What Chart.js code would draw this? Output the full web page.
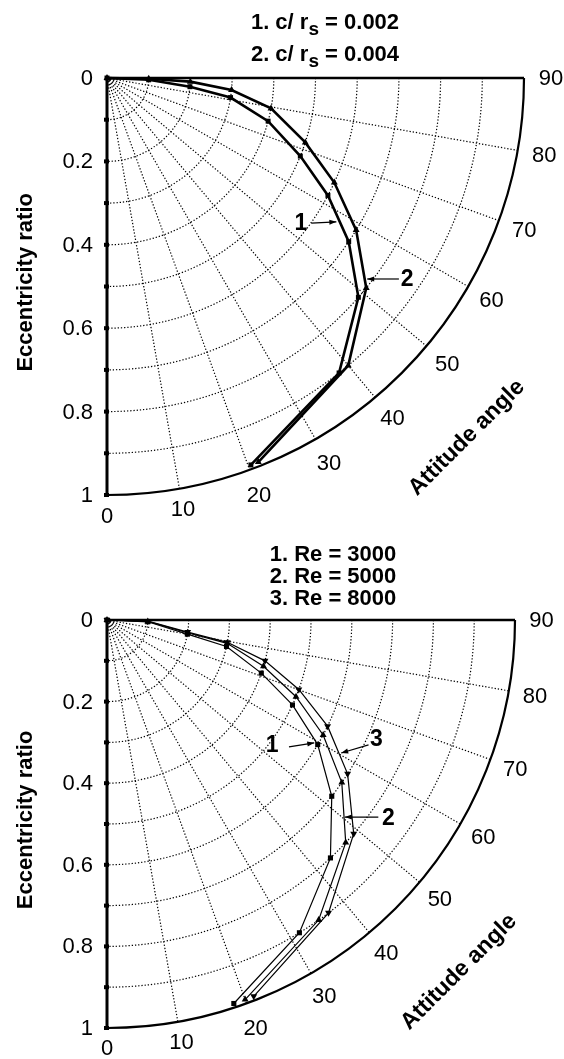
<!DOCTYPE html>
<html><head><meta charset="utf-8">
<script src="https://cdn.jsdelivr.net/npm/chart.js@4/dist/chart.umd.min.js"></script>
<style>
html,body{margin:0;padding:0;background:#fff;width:564px;height:1059px;overflow:hidden}
canvas{position:absolute;left:0}
#c1{top:0}
#c2{top:535px}
</style></head><body>
<canvas id="c1" width="564" height="535"></canvas>
<canvas id="c2" width="564" height="524"></canvas>
<script>
// eccentricity ratio of every plotted point (shared by all curves)
const eccentricity = [0, 0.1, 0.2, 0.3, 0.4, 0.5, 0.6, 0.7, 0.8, 0.9, 0.99];
// top chart: attitude angle (deg)
const angleClr002 = [90, 87.5, 84, 81, 75, 68, 62, 55.9, 48.9, 38.2, 20.4];
const angleClr004 = [90, 89, 87.5, 84.5, 79.5, 72, 65.3, 58.6, 51, 40, 21.5];
// bottom chart: attitude angle (deg)
const angleRe3000 = [90, 87.5, 80, 77.5, 71, 65.4, 59.4, 51.9, 43.2, 31.6, 18.3];
const angleRe5000 = [90, 88, 81, 79, 73.5, 67.9, 62, 55.3, 47, 35.2, 20];
const angleRe8000 = [90, 88.5, 81.5, 79.5, 75.5, 70.1, 64.3, 57.4, 49.1, 37.1, 21.3];
// axes
const eccTickValues = [0, 0.2, 0.4, 0.6, 0.8, 1];
const eccTickLabels = ['0', '0.2', '0.4', '0.6', '0.8', '1'];
const eccGrid = [0.1, 0.2, 0.3, 0.4, 0.5, 0.6, 0.7, 0.8, 0.9];
const eccMinorTicks = [0.1, 0.2, 0.3, 0.4, 0.5, 0.6, 0.7, 0.8, 0.9, 1];
const angleTicks = [0, 10, 20, 30, 40, 50, 60, 70, 80, 90];
const angleGrid = [10, 20, 30, 40, 50, 60, 70, 80];
const eccTitle = 'Eccentricity ratio';
const angleTitle = 'Attitude angle';
const topTitles = [
  [['1. c/ r', 'n'], ['s', 'sub'], [' = 0.002', 'n']],
  [['2. c/ r', 'n'], ['s', 'sub'], [' = 0.004', 'n']]
];
const bottomTitles = [
  [['1. Re = 3000', 'n']],
  [['2. Re = 5000', 'n']],
  [['3. Re = 8000', 'n']]
];

function polar(e, deg) {
  const a = deg * Math.PI / 180;
  return { x: e * Math.sin(a), y: e * Math.cos(a) };
}
function series(angles) { return eccentricity.map((e, i) => polar(e, angles[i])); }

const TICK_FONT = '22px "Liberation Sans", Arial, sans-serif';
const BOLD = (s) => 'bold ' + s + 'px "Liberation Sans", Arial, sans-serif';

function drawArrow(ctx, x1, y1, x2, y2) {
  ctx.beginPath(); ctx.moveTo(x1, y1); ctx.lineTo(x2, y2); ctx.stroke();
  const a = Math.atan2(y2 - y1, x2 - x1), L = 7, W = 2.5;
  ctx.beginPath();
  ctx.moveTo(x2, y2);
  ctx.lineTo(x2 - L * Math.cos(a) + W * Math.sin(a), y2 - L * Math.sin(a) - W * Math.cos(a));
  ctx.lineTo(x2 - L * Math.cos(a) - W * Math.sin(a), y2 - L * Math.sin(a) + W * Math.cos(a));
  ctx.closePath(); ctx.fill();
}

function framePlugin(cfg) {
  return {
    id: 'polarFrame',
    beforeDatasetsDraw(chart) {
      const ctx = chart.ctx, xs = chart.scales.x, ys = chart.scales.y;
      const ox = xs.getPixelForValue(0), oy = ys.getPixelForValue(0);
      const rx = xs.getPixelForValue(1) - ox, ry = ys.getPixelForValue(1) - oy;
      ctx.save();
      ctx.strokeStyle = '#000'; ctx.fillStyle = '#000';
      ctx.lineWidth = 1.2; ctx.setLineDash([1.3, 1.9]);
      eccGrid.forEach(e => {
        ctx.beginPath(); ctx.ellipse(ox, oy, rx * e, ry * e, 0, 0, Math.PI / 2); ctx.stroke();
      });
      angleGrid.forEach(d => {
        const p = polar(1, d);
        ctx.beginPath(); ctx.moveTo(ox, oy);
        ctx.lineTo(xs.getPixelForValue(p.x), ys.getPixelForValue(p.y)); ctx.stroke();
      });
      ctx.setLineDash([]);
      ctx.lineWidth = 2.2;
      ctx.beginPath(); ctx.ellipse(ox, oy, rx, ry, 0, 0, Math.PI / 2); ctx.stroke();
      ctx.lineWidth = 2.5;
      ctx.beginPath(); ctx.moveTo(ox, oy); ctx.lineTo(ox + rx, oy); ctx.stroke();
      ctx.lineWidth = 3;
      ctx.beginPath(); ctx.moveTo(ox, oy - 1); ctx.lineTo(ox, oy + ry + 1); ctx.stroke();
      eccMinorTicks.forEach(e => {
        const y = ys.getPixelForValue(e);
        ctx.fillRect(ox - 3, y - 2, 5, 4);
      });
      ctx.restore();
    },
    afterDraw(chart) {
      const ctx = chart.ctx, xs = chart.scales.x, ys = chart.scales.y;
      const ox = xs.getPixelForValue(0), oy = ys.getPixelForValue(0);
      const rx = xs.getPixelForValue(1) - ox, ry = ys.getPixelForValue(1) - oy;
      const P = (X, Y) => [xs.getPixelForValue(X), ys.getPixelForValue(Y)];
      ctx.save();
      ctx.fillStyle = '#000'; ctx.strokeStyle = '#000';
      // eccentricity tick labels
      ctx.font = TICK_FONT; ctx.textAlign = 'right'; ctx.textBaseline = 'middle';
      eccTickValues.forEach((v, i) => {
        ctx.fillText(eccTickLabels[i], ox - 14, ys.getPixelForValue(v) + 1);
      });
      // angle tick labels
      ctx.textAlign = 'center';
      angleTicks.forEach(d => {
        const r = d <= 10 ? 1.05 : 1.065;
        const p = polar(r, d);
        const [x, y] = P(p.x, p.y);
        ctx.fillText(String(d), x, y + 1);
      });
      // axis titles
      ctx.font = BOLD(22);
      ctx.save();
      ctx.translate(26, oy + ry * 0.49);
      ctx.rotate(-Math.PI / 2);
      ctx.fillText(eccTitle, 0, 0);
      ctx.restore();
      ctx.font = BOLD(23);
      const pa = polar(1.22, 45);
      const [ax, ay] = P(pa.x, pa.y);
      ctx.save(); ctx.translate(ax, ay); ctx.rotate(-Math.PI / 4);
      ctx.fillText(angleTitle, 0, 0); ctx.restore();
      // titles
      cfg.titles.forEach((line, li) => {
        const segs = line.map(([t, k]) => ({ t, k, f: k === 'sub' ? BOLD(19) : BOLD(22) }));
        let w = 0;
        segs.forEach(s => { ctx.font = s.f; s.w = ctx.measureText(s.t).width; w += s.w; });
        let x = cfg.titleX - w / 2;
        const y = cfg.titleY[li];
        ctx.textAlign = 'left'; ctx.textBaseline = 'middle';
        segs.forEach(s => {
          ctx.font = s.f;
          ctx.fillText(s.t, x, s.k === 'sub' ? y + 7 : y);
          x += s.w;
        });
      });
      // curve labels with arrows
      ctx.font = BOLD(23); ctx.textAlign = 'center'; ctx.textBaseline = 'middle';
      ctx.lineWidth = 1.2;
      cfg.notes.forEach(n => {
        const [tx, ty] = P(n.at[0], n.at[1]);
        ctx.fillText(n.text, tx, ty + 1);
        const [x1, y1] = P(n.from[0], n.from[1]);
        const [x2, y2] = P(n.to[0], n.to[1]);
        drawArrow(ctx, x1, y1, x2, y2);
      });
      ctx.restore();
    }
  };
}

function makeChart(id, datasets, pad, cfg) {
  return new Chart(document.getElementById(id), {
    type: 'scatter',
    data: { datasets },
    options: {
      responsive: false, animation: false, devicePixelRatio: 1,
      layout: { padding: pad },
      plugins: { legend: { display: false }, tooltip: { enabled: false }, title: { display: false } },
      scales: {
        x: { type: 'linear', min: 0, max: 1, display: false },
        y: { type: 'linear', min: 0, max: 1, reverse: true, display: false }
      }
    },
    plugins: [framePlugin(cfg)]
  });
}

function ds(angles, style, lw, radius, rot) {
  return {
    data: series(angles), showLine: true, borderColor: '#000', backgroundColor: '#000',
    borderWidth: lw, pointRadius: radius, pointStyle: style, pointRotation: rot || 0,
    pointBorderWidth: 0, pointBackgroundColor: '#000', tension: 0, clip: false
  };
}

makeChart('c1', [
  ds(angleClr002, 'rect', 2.6, 3.5),
  ds(angleClr004, 'triangle', 2.6, 4)
], { left: 107, top: 78, right: 40, bottom: 40 }, {
  titles: topTitles, titleX: 325, titleY: [23, 55],
  notes: [
    { text: '1', at: [0.465, 0.348], from: [0.49, 0.348], to: [0.55, 0.345] },
    { text: '2', at: [0.72, 0.48], from: [0.70, 0.482], to: [0.624, 0.482] }
  ]
});

makeChart('c2', [
  ds(angleRe3000, 'rect', 1.2, 3.6),
  ds(angleRe5000, 'triangle', 1.2, 4),
  ds(angleRe8000, 'triangle', 1.2, 4, 180)
], { left: 107, top: 85, right: 49, bottom: 31 }, {
  titles: bottomTitles, titleX: 333, titleY: [20, 42, 64],
  notes: [
    { text: '1', at: [0.405, 0.306], from: [0.446, 0.311], to: [0.508, 0.301] },
    { text: '3', at: [0.66, 0.292], from: [0.641, 0.306], to: [0.574, 0.326] },
    { text: '2', at: [0.69, 0.485], from: [0.665, 0.483], to: [0.583, 0.483] }
  ]
});
</script>
</body></html>
